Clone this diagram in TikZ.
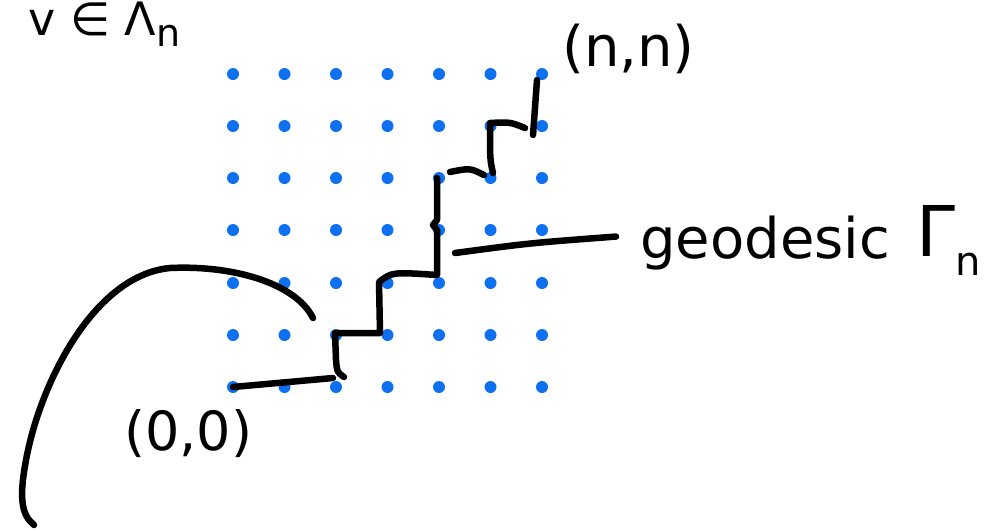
\documentclass[tikz,border=0pt]{standalone}
\usepackage{fontspec}
\setmainfont{DejaVu Sans}
\definecolor{dotblue}{RGB}{12,112,240}
\tikzset{
  ink/.style={line width=6.5pt, line cap=round, line join=round, black},
  latticept/.style={circle, fill=dotblue, inner sep=0pt, minimum size=12pt},
  hand/.style={inner sep=0pt, font=\fontsize{54}{56}\selectfont}
}
\begin{document}
\begin{tikzpicture}[x=1pt,y=-1pt]
\useasboundingbox (0,0) rectangle (992,531);

% the lattice Lambda_n, 7 x 7 points
\foreach \i/\x in {0/233,1/284.5,2/336,3/387.5,4/439,5/490.5,6/542}{
  \foreach \j/\y in {0/387,1/335,2/283,3/230,4/178,5/126,6/74}{
    \node[latticept] (p\i\j) at (\x,\y) {};
  }
}

% labels
\node[inner sep=0pt, font=\fontsize{46}{48}\selectfont, anchor=base west] (lam) at (28,35)
  {v ∈ Λ\raisebox{-0.45ex}{\fontsize{38}{40}\selectfont n}};
\node[hand, font=\fontsize{56}{58}\selectfont, anchor=base west] (nn) at (562,66) {(n,n)};
\node[hand, anchor=base west] (oo) at (124,450) {(0,0)};
\node[hand, font=\fontsize{56}{58}\selectfont, anchor=base west] (geo) at (640,258) {geodesic};
\node[hand, font=\fontsize{70}{72}\selectfont, anchor=base west] (gam) at (916,256)
  {Γ\raisebox{-0.5ex}{\fontsize{40}{42}\selectfont n}};

% the geodesic from (0,0) to (n,n)
\draw[ink] (p00.center) -- (333,378);
\draw[ink] (344,377) .. controls (337,372) .. (336,360) -- (335,333) -- (380,333)
  -- (379,282) .. controls (392,272) .. (437,275)
  -- (437,230) -- (433,225) -- (437,220) -- (437,178);
\draw[ink] (450,172) .. controls (470,168) .. (484,175);
\draw[ink] (493,173) .. controls (490,160) .. (490,123) .. controls (510,122) .. (525,128);
\draw[ink] (537,80) -- (533,135);

% pointer from the label to the path
\coordinate (hit) at (455,253);
\draw[ink] (hit) .. controls (530,243) .. ([xshift=-24pt,yshift=6pt]geo.west);

% long stroke on the left
\draw[ink] (313,318) .. controls (295,282) and (230,265) .. (170,268)
  .. controls (95,275) and (42,380) .. (27,455)
  .. controls (18,500) and (22,515) .. (34,525);
\end{tikzpicture}
\end{document}
